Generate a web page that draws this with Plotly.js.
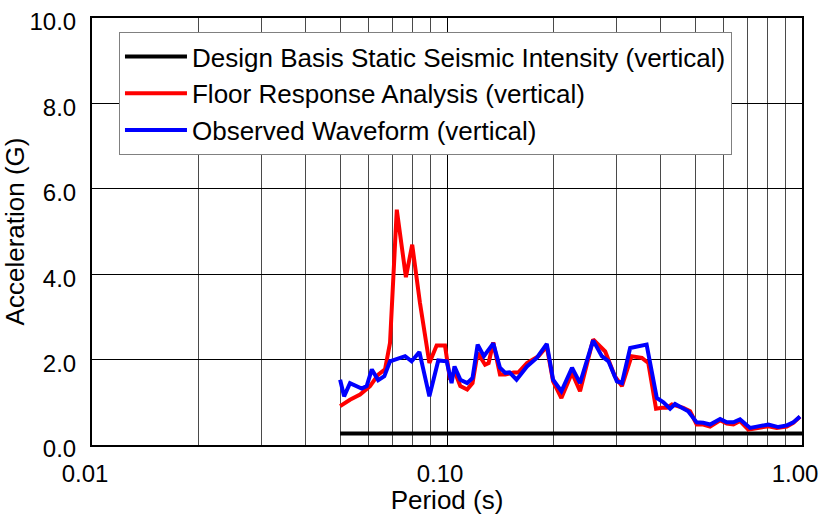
<!DOCTYPE html>
<html>
<head>
<meta charset="utf-8">
<script src="https://cdn.plot.ly/plotly-3.0.1.min.js"></script>
<style>
html,body{margin:0;padding:0;background:#fff;}
#chart{width:823px;height:515px;}
</style>
</head>
<body>
<div id="chart"></div>
<script>
// Design basis static seismic intensity (vertical)
const designPeriod = [0.05, 1.0];
const designAccel = [0.27, 0.27];

// Floor response analysis (vertical)
const floorPeriod = [0.050, 0.0533, 0.0569, 0.0607, 0.0640, 0.0669, 0.0691, 0.0722, 0.0766, 0.0798,
  0.0839, 0.0892, 0.0935, 0.0987, 0.102, 0.105, 0.109, 0.114, 0.118, 0.122,
  0.128, 0.131, 0.135, 0.141, 0.146, 0.154, 0.159, 0.168, 0.181, 0.191,
  0.199, 0.210, 0.225, 0.237, 0.258, 0.279, 0.297, 0.311, 0.331, 0.354,
  0.369, 0.388, 0.403, 0.416, 0.430, 0.444, 0.463, 0.484, 0.505, 0.527,
  0.551, 0.588, 0.614, 0.641, 0.669, 0.706, 0.746, 0.804, 0.849, 0.906,
  0.945, 0.987];
const floorAccel = [0.91, 1.06, 1.18, 1.38, 1.65, 1.77, 2.39, 5.51, 3.93, 4.69,
  3.33, 1.92, 2.33, 2.33, 1.53, 1.73, 1.38, 1.30, 1.45, 2.16,
  1.88, 1.92, 2.40, 1.65, 1.65, 1.70, 1.70, 1.92, 2.08, 2.31,
  1.49, 1.10, 1.69, 1.26, 2.47, 2.19, 1.61, 1.38, 2.08, 2.04,
  1.92, 0.85, 0.87, 0.87, 0.95, 0.92, 0.87, 0.79, 0.48, 0.48,
  0.43, 0.58, 0.50, 0.48, 0.56, 0.36, 0.40, 0.44, 0.40, 0.43,
  0.52, 0.66];

// Observed waveform (vertical)
const obsPeriod = [0.050, 0.0513, 0.0533, 0.0575, 0.0594, 0.0614, 0.0640, 0.0666, 0.0691, 0.0762,
  0.0795, 0.0836, 0.0892, 0.0945, 0.0998, 0.103, 0.105, 0.109, 0.114, 0.118,
  0.122, 0.127, 0.135, 0.141, 0.146, 0.150, 0.157, 0.168, 0.179, 0.191,
  0.199, 0.210, 0.225, 0.237, 0.258, 0.273, 0.285, 0.301, 0.311, 0.328,
  0.365, 0.390, 0.407, 0.425, 0.439, 0.458, 0.478, 0.505, 0.527, 0.551,
  0.588, 0.614, 0.641, 0.669, 0.714, 0.746, 0.804, 0.858, 0.906, 0.945,
  0.987];
const obsAccel = [1.53, 1.14, 1.45, 1.32, 1.38, 1.77, 1.52, 1.61, 1.96, 2.08,
  1.96, 2.18, 1.14, 1.98, 1.96, 1.45, 1.84, 1.53, 1.45, 1.57,
  2.35, 2.08, 2.38, 1.81, 1.69, 1.70, 1.53, 1.84, 2.04, 2.37,
  1.53, 1.26, 1.81, 1.45, 2.45, 2.08, 1.96, 1.49, 1.45, 2.27,
  2.35, 1.10, 1.00, 0.85, 0.96, 0.87, 0.79, 0.53, 0.52, 0.48,
  0.61, 0.53, 0.53, 0.60, 0.40, 0.43, 0.48, 0.42, 0.46, 0.53,
  0.67];

const xMajorVals = [0.01, 0.1, 1];
const xMajorText = ['0.01', '0.10', '1.00'];
const xMinorVals = [0.02, 0.03, 0.04, 0.05, 0.06, 0.07, 0.08, 0.09, 0.2, 0.3, 0.4, 0.5, 0.6, 0.7, 0.8, 0.9];

const names = ['Design Basis Static Seismic Intensity (vertical)', 'Floor Response Analysis (vertical)', 'Observed Waveform (vertical)'];

const traces = [
  {x: designPeriod, y: designAccel, mode: 'lines', name: names[0],
   line: {color: '#000000', width: 4}},
  {x: floorPeriod, y: floorAccel, mode: 'lines', name: names[1],
   line: {color: '#ff0000', width: 4}},
  {x: obsPeriod, y: obsAccel, mode: 'lines', name: names[2],
   line: {color: '#0000ff', width: 4}}
];

const font = 'Liberation Sans, Arial, sans-serif';

const layout = {
  width: 823, height: 515,
  margin: {l: 92, r: 21, t: 18, b: 70},
  paper_bgcolor: '#ffffff', plot_bgcolor: '#ffffff',
  font: {family: font, size: 24, color: '#000000'},
  showlegend: true,
  legend: {
    x: 0.038, y: 0.967, xanchor: 'left', yanchor: 'top',
    bgcolor: '#ffffff', bordercolor: '#808080', borderwidth: 1,
    font: {family: font, size: 26, color: '#000000'},
    itemwidth: 62, traceorder: 'normal'
  },
  xaxis: {
    type: 'log', range: [-2, 0],
    tickvals: xMajorVals, ticktext: xMajorText,
    showgrid: true, gridcolor: '#000000', gridwidth: 1,
    minor: {tickvals: xMinorVals, showgrid: true, gridcolor: '#4a4a4a', gridwidth: 1, ticks: ''},
    ticks: '', showline: true, linecolor: '#000000', linewidth: 2, mirror: true,
    zeroline: false, ticklabelstandoff: 6, ticklabelshift: -7, ticklabeloverflow: 'allow',
    tickfont: {family: font, size: 24, color: '#000000'},
    title: {text: 'Period (s)', font: {family: font, size: 26, color: '#000000'}, standoff: 0}
  },
  yaxis: {
    range: [0, 10], dtick: 2, tick0: 0, tickformat: '.1f',
    showgrid: true, gridcolor: '#000000', gridwidth: 1,
    ticks: '', showline: true, linecolor: '#000000', linewidth: 2, mirror: true,
    zeroline: false, ticklabelstandoff: 9, ticklabelshift: 4, ticklabeloverflow: 'allow',
    tickfont: {family: font, size: 24, color: '#000000'},
    title: {text: 'Acceleration (G)', font: {family: font, size: 26, color: '#000000'}, standoff: 4}
  }
};

Plotly.newPlot('chart', traces, layout, {staticPlot: true, displayModeBar: false});
</script>
</body>
</html>
